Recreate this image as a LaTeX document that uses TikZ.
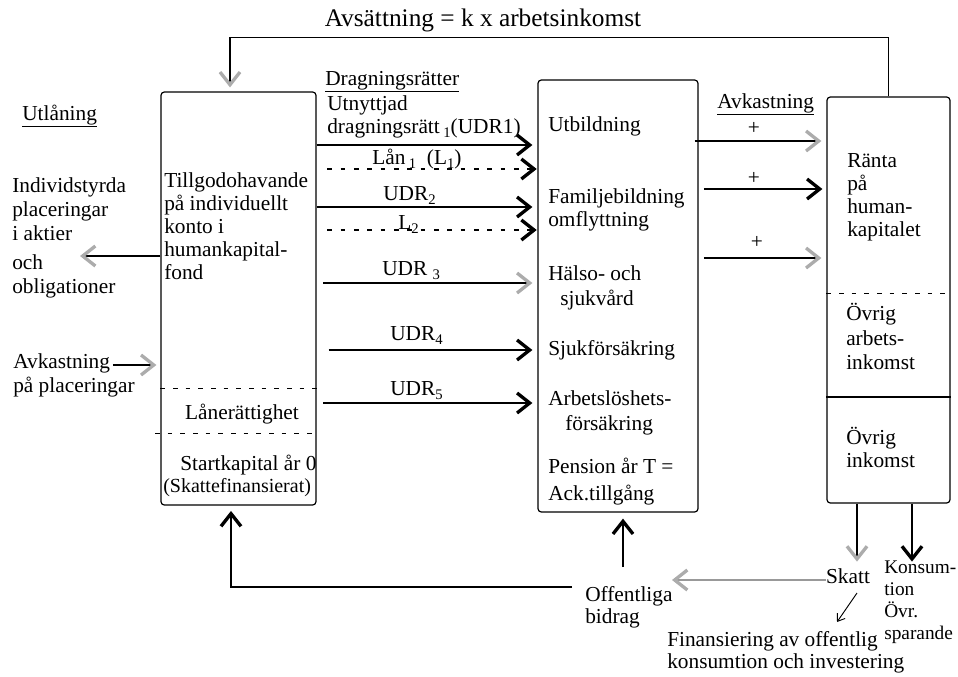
\documentclass[tikz,border=0pt]{standalone}
\usepackage{fontspec}
\setmainfont{Liberation Serif}
\usetikzlibrary{arrows.meta}
\newcommand{\bodyf}{\fontsize{16}{17.25}\selectfont}
\newcommand{\lowi}[1]{\raisebox{-0.5ex}{\fontsize{11}{11}\selectfont #1}}
\tikzset{
  box/.style={draw, line width=0.9pt, rounded corners=2.5pt, inner sep=0pt},
  txt/.style={anchor=west, inner sep=0pt, font=\bodyf, text height=0.68em, text depth=0.22em},
  ctxt/.style={txt, anchor=center},
  blk/.style={anchor=north west, inner sep=0pt, font=\bodyf, align=left},
  ln/.style={line width=0.8pt},
  arr/.style={ln, -{Straight Barb[length=9.5pt,width=15pt,line width=2.5pt]}},
  garr/.style={ln, -{Straight Barb[length=9.5pt,width=15pt,line width=2.5pt,color=gray!65]}},
  darr/.style={arr, dash pattern=on 3.5pt off 6.5pt},
  sarr/.style={line width=0.7pt, -{Straight Barb[length=5pt,width=7pt]}},
  dline/.style={line width=0.7pt, dash pattern=on 3.5pt off 6pt},
}
\begin{document}
\begin{tikzpicture}[x=0.75pt,y=-0.75pt]
\useasboundingbox (0,0) rectangle (958,676);

% boxes
\node[box, minimum width=116.25pt, minimum height=309.75pt] (A) at (238.5,298.5) {};
\node[box, minimum width=120pt, minimum height=324pt] (B) at (618,296) {};
\node[box, minimum width=92.25pt, minimum height=304.5pt] (C) at (888.5,300) {};

% title and top loop
\node[inner sep=0pt, font=\fontsize{19}{21}\selectfont] (title) at (483,20) {Avsättning = k x arbetsinkomst};
\draw[garr, shorten >=3pt] (C.north) -- ++(0,-59) -| (A.north -| 230,0);

% left side
\node[txt] (utl) at (22,117) {\underline{Utlåning}};
\node[blk, font=\fontsize{16}{18}\selectfont] (indiv) at (12,177) {Individstyrda\\placeringar\\i aktier\\[4pt]och\\obligationer};
\coordinate (utend) at (80,256);
\draw[garr] (A.west |- utend) -- (utend);
\node[txt] (avk) at (13,365) {Avkastning};
\node[txt] (pplac) at (13,389) {på placeringar};
\draw[garr, shorten <=2pt, shorten >=3pt] (avk.east) -- (A.west |- avk.east);

% box A content
\node[blk] (tillg) at (164,172) {Tillgodohavande\\på individuellt\\konto i\\humankapital-\\fond};
\draw[dline] (A.west |- 0,388) -- (A.east |- 0,388);
\node[ctxt] (laner) at (242,416) {Lånerättighet};
\draw[dline] (155,433) -- (A.east |- 0,433);
\node[txt] (start) at (180,467) {Startkapital år 0};
\node[txt, font=\fontsize{15}{17}\selectfont] (skf) at (163,489) {(Skattefinansierat)};

% drawing rights
\node[txt] (dragr) at (325,82) {\underline{Dragningsrätter}};
\node[txt] (utn) at (327,107) {Utnyttjad};
\node[txt] (udr1) at (327,130) {dragningsrätt\,\lowi{1}(UDR1)};
\draw[arr, shorten >=3.75pt] (A.east |- 0,145) -- (B.west |- 0,145);
\node[txt] (lan1) at (372,161) {Lån\,\lowi{1}\ \ (L\lowi{1})};
\draw[darr, shorten <=8pt, shorten >=0.5pt] (A.east |- 0,169) -- (B.west |- 0,169);
\node[txt] (udr2) at (383,197) {UDR\lowi{2}};
\draw[arr, shorten >=3.75pt] (A.east |- 0,207) -- (B.west |- 0,207);
\node[txt] (l2) at (398,226) {L\lowi{2}};
\draw[darr, shorten <=8pt, shorten >=0.5pt] (A.east |- 0,230) -- (B.west |- 0,230);
\node[txt] (udr3) at (382,272) {UDR\ \lowi{3}};
\draw[garr, shorten <=5pt, shorten >=3.75pt] (A.east |- 0,283) -- (B.west |- 0,283);
\node[txt] (udr4) at (390,337) {UDR\lowi{4}};
\draw[arr, shorten <=9pt, shorten >=3.75pt] (A.east |- 0,350) -- (B.west |- 0,350);
\node[txt] (udr5) at (390,392) {UDR\lowi{5}};
\draw[arr, shorten <=5pt, shorten >=3.75pt] (A.east |- 0,403) -- (B.west |- 0,403);

% box B content
\node[txt] (utb) at (548,128) {Utbildning};
\node[txt] (fam) at (548,200) {Familjebildning};
\node[txt] (omf) at (548,223) {omflyttning};
\node[txt] (hals) at (548,277) {Hälso- och};
\node[txt] (sjv) at (560,302) {sjukvård};
\node[txt] (sjf) at (548,352) {Sjukförsäkring};
\node[txt] (arb) at (548,402) {Arbetslöshets-};
\node[txt] (fors) at (565,427) {försäkring};
\node[txt] (pens) at (548,470) {Pension år T =};
\node[txt] (ack) at (548,497) {Ack.tillgång};

% returns
\node[txt] (avk2) at (717,105) {\underline{Avkastning}};
\node[ctxt] (p1) at (754,131) {+};
\draw[garr, shorten <=-3pt, shorten >=3.75pt] (B.east |- 0,141) -- (C.west |- 0,141);
\node[ctxt] (p2) at (754,181) {+};
\draw[arr, shorten <=4pt, shorten >=3pt] (B.east |- 0,189) -- (C.west |- 0,189);
\node[ctxt] (p3) at (757,245) {+};
\draw[garr, shorten <=4pt, shorten >=3.75pt] (B.east |- 0,258) -- (C.west |- 0,258);

% box C content
\node[blk] (ranta) at (847,153) {Ränta\\på\\human-\\kapitalet};
\draw[dline] (C.west |- 0,293) -- (C.east |- 0,293);
\node[blk, font=\fontsize{16}{18.4}\selectfont] (ovra) at (846,303) {Övrig\\arbets-\\inkomst};
\draw[ln] (C.west |- 0,397) -- (C.east |- 0,397);
\node[blk] (ovri) at (846,427) {Övrig\\inkomst};

% bottom
\draw[garr] (C.south -| 857,0) -- ++(0,58);
\draw[arr] (C.south -| 912,0) -- ++(0,58);
\node[ctxt] (skatt) at (848,580) {Skatt};
\node[blk, font=\fontsize{14.5}{16.5}\selectfont] (kons) at (884,561) {Konsum-\\tion\\Övr.\\sparande};
\node[blk, font=\fontsize{16}{16.5}\selectfont] (off) at (585,586) {Offentliga\\bidrag};
\coordinate (offtip) at (672,580);
\draw[garr, draw=gray!80] (skatt.west) -- (offtip);
\coordinate (offup) at (623,567);
\draw[arr, shorten >=4.5pt] (offup) -- (B.south -| offup);
\coordinate (bl) at (572,587);
\draw[arr, shorten >=4pt] (bl) -| (A.south -| 231,0);
\coordinate (sd1) at (857,593);
\coordinate (sd2) at (837,622);
\draw[sarr] (sd1) -- (sd2);
\node[blk, font=\fontsize{16}{16.5}\selectfont] (fin) at (667,631) {Finansiering av offentlig\\konsumtion och investering};
\end{tikzpicture}
\end{document}
